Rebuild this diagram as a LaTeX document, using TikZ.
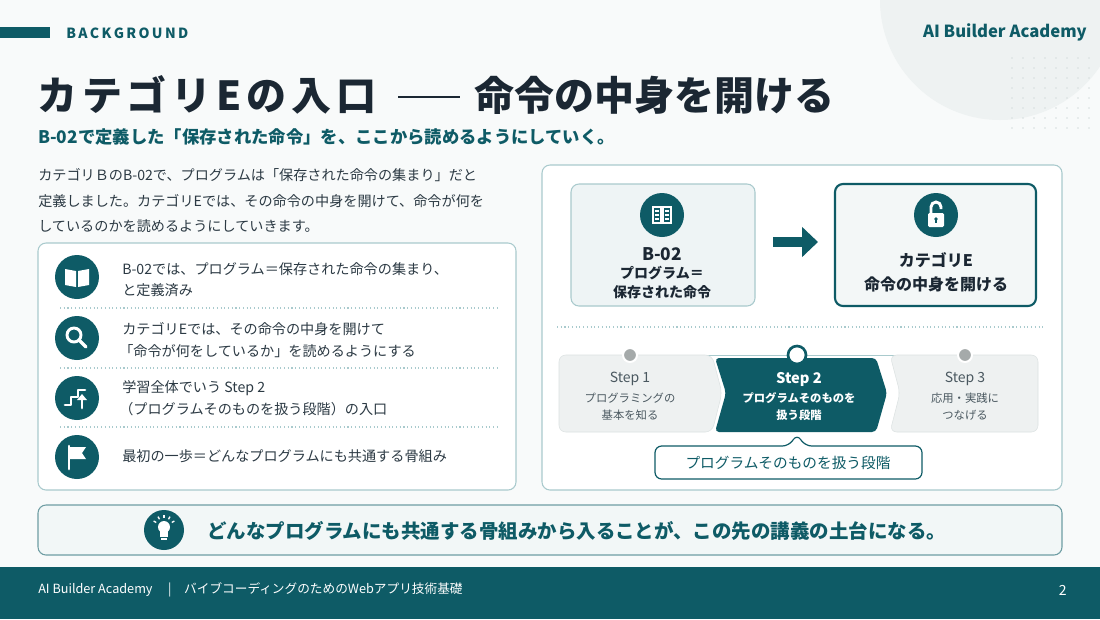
\documentclass[tikz,border=0pt]{standalone}
\usepackage{fontspec}
\setmainfont{Noto Sans CJK JP}
\usetikzlibrary{arrows.meta}
\definecolor{teal}{HTML}{0E5B66}
\definecolor{ink}{HTML}{1B2733}
\definecolor{txt}{HTML}{2C3A44}
\definecolor{bd}{HTML}{A9CACD}
\definecolor{lt}{HTML}{EEF4F5}
\definecolor{gy}{HTML}{EEF1F1}
\definecolor{gtx}{HTML}{4A5860}
\definecolor{pagebg}{HTML}{F8FAFA}
\definecolor{deco}{HTML}{EEF2F2}
\definecolor{dots}{HTML}{D7DEDE}
\definecolor{lt2}{HTML}{F3F7F7}
\definecolor{gbd}{HTML}{DCE2E2}
\definecolor{gdot}{HTML}{A5AAAA}
\definecolor{ban}{HTML}{F2F7F7}
\begin{document}
\begin{tikzpicture}[x=0.75pt,y=-0.75pt,
  t/.style={anchor=west,inner sep=0,text=txt,font=\fontsize{10.6}{12}\selectfont},
  ic/.style={circle,fill=teal,minimum size=33pt,inner sep=0},
  box/.style={draw=bd,line width=0.8pt,rounded corners=6pt},
  sep/.style={draw=bd,dotted,line width=0.8pt},
  w/.style={draw=white,line width=1.4pt,line cap=round,line join=round}]
\useasboundingbox (0,0) rectangle (1100,619);
\fill[pagebg] (0,0) rectangle (1100,619);
\fill[deco] (1000,0) circle (120);
\foreach \i in {0,...,7}\foreach \j in {0,...,7}\fill[dots] (1012+\i*11,58+\j*10) circle (0.9);
% header
\fill[teal] (0,27) rectangle (50,38);
\node[anchor=west,inner sep=0,text=teal,font=\bfseries\fontsize{10.5}{12}\selectfont] (bg) at (66,33) {B\,A\,C\,K\,G\,R\,O\,U\,N\,D};
\node[anchor=east,inner sep=0,text=teal,font=\bfseries\fontsize{12.5}{14}\selectfont] (brand) at (1087,32) {AI Builder Academy};
% title
\node[anchor=west,inner sep=0,text=ink,font=\bfseries\fontsize{30}{36}\selectfont\addfontfeature{LetterSpace=12}] (t1) at (37,95) {カテゴリEの入口};
\draw[ink,line width=1.5pt] (398,97) -- (460,97);
\node[anchor=west,inner sep=0,text=ink,font=\bfseries\fontsize{30}{36}\selectfont] (t2) at (474,95) {命令の中身を開ける};
\node[t,text=teal,font=\bfseries\fontsize{13}{14}\selectfont] (sub) at (38,137) {B-02で定義した「保存された命令」を、ここから読めるようにしていく。};
\node[t] (p1) at (38,175) {カテゴリＢのB-02で、プログラムは「保存された命令の集まり」だと};
\node[t] (p2) at (38,201) {定義しました。カテゴリEでは、その命令の中身を開けて、命令が何を};
\node[t] (p3) at (38,226) {しているのかを読めるようにしていきます。};
% left box
\draw[box,fill=white] (38,243) rectangle (516,490);
\foreach \y in {308,368,427} \draw[sep] (60,\y) -- (497,\y);
\node[ic] (i1) at (77,277) {};
\node[ic] (i2) at (77,338) {};
\node[ic] (i3) at (77,398) {};
\node[ic] (i4) at (77,457) {};
% book
\fill[white] (65,269) -- (76,271) -- (76,287) -- (65,285) -- cycle;
\fill[white] (89,269) -- (78,271) -- (78,287) -- (89,285) -- cycle;
% magnifier
\draw[w,line width=2.2pt] (74,335) circle (7);
\draw[w,line width=2.6pt] (79,340) -- (86,347);
% stairs
\draw[w,line width=2pt] (65,405) -- (71,405) -- (71,397) -- (78,397) -- (78,390) -- (85,390);
\draw[w,line width=2pt] (82,408) -- (82,398);
\fill[white] (77,400) -- (82,394) -- (87,400) -- cycle;
% flag
\draw[w,line width=2pt] (69,446) -- (69,469);
\fill[white] (69,447) -- (86,447) -- (82,453) -- (86,459) -- (69,459) -- cycle;
\node[t] (l1a) at (122,269) {B-02では、プログラム＝保存された命令の集まり、};
\node[t] (l1b) at (122,290) {と定義済み};
\node[t] (l2a) at (122,329) {カテゴリEでは、その命令の中身を開けて};
\node[t] (l2b) at (119,351) {「命令が何をしているか」を読めるようにする};
\node[t] (l3a) at (122,388) {学習全体でいう Step 2};
\node[t] (l3b) at (119,409) {（プログラムそのものを扱う段階）の入口};
\node[t] (l4) at (122,456) {最初の一歩＝どんなプログラムにも共通する骨組み};
% right panel
\draw[box,fill=white] (542,165) rectangle (1062,490);
\draw[box,fill=lt] (571,184) rectangle (755,306);
\draw[teal,line width=1.6pt,rounded corners=6pt,fill=lt2] (835,184) rectangle (1036,306);
\node[ic] (bk) at (662,215) {};
\draw[white,line width=1.3pt] (653,207) rectangle (661,223) (663,207) rectangle (671,223);
\foreach \yy in {211,215,219}{\draw[white,line width=1pt] (655,\yy)--(659,\yy) (665,\yy)--(669,\yy);}
\node[ic] (lk) at (936,215) {};
\fill[white,rounded corners=1pt] (928,213) rectangle (944,227);
\draw[white,line width=2.2pt] (931,213) -- (931,207) arc (180:360:5) -- (941,209);
\fill[teal] (936,219) circle (1.8); \draw[teal,line width=1.3pt] (936,219) -- (936,223);
\node[inner sep=0,text=ink,font=\bfseries\fontsize{13}{14}\selectfont] (b02) at (662,254) {B-02};
\node[inner sep=0,text=ink,font=\bfseries\fontsize{10.5}{12}\selectfont] (b02a) at (662,273) {プログラム＝};
\node[inner sep=0,text=ink,font=\bfseries\fontsize{10.5}{12}\selectfont] (b02b) at (662,292) {保存された命令};
\node[inner sep=0,text=ink,font=\bfseries\fontsize{12}{14}\selectfont] (ce) at (936,260) {カテゴリE};
\node[inner sep=0,text=ink,font=\bfseries\fontsize{12}{14}\selectfont] (ce2) at (936,284) {命令の中身を開ける};
\coordinate (ar1) at (773,242); \coordinate (ar2) at (818,242);
\draw[teal,line width=8pt,-{Triangle[length=12pt,width=22pt]}] (ar1) -- (ar2);
\draw[sep] (557,327) -- (1045,327);
% steps
\draw[bd,line width=0.7pt] (630,355) -- (965,355);
\filldraw[fill=gy,draw=gbd,rounded corners=5pt] (559,355) -- (712,355) -- (722,393) -- (712,432) -- (559,432) -- cycle;
\fill[teal,rounded corners=3pt] (715,358) -- (876,358) -- (887,393) -- (876,432) -- (715,432) -- (726,393) -- cycle;
\filldraw[fill=gy,draw=gbd,rounded corners=5pt] (890,355) -- (1038,355) -- (1038,432) -- (890,432) -- (900,393) -- cycle;
\filldraw[fill=gdot,draw=white,line width=1.5pt] (630,355) circle (7);
\filldraw[fill=gdot,draw=white,line width=1.5pt] (965,355) circle (7);
\filldraw[fill=white,draw=teal,line width=2pt] (797,355) circle (9);
\node[inner sep=0,text=gtx,font=\fontsize{10.5}{12}\selectfont] (s1) at (630,379) {Step 1};
\node[inner sep=0,text=gtx,font=\fontsize{8.5}{10}\selectfont] (s1a) at (630,398) {プログラミングの};
\node[inner sep=0,text=gtx,font=\fontsize{8.5}{10}\selectfont] (s1b) at (630,415) {基本を知る};
\node[inner sep=0,text=white,font=\bfseries\fontsize{11}{12}\selectfont] (s2) at (799,379) {Step 2};
\node[inner sep=0,text=white,font=\bfseries\fontsize{8.5}{10}\selectfont] (s2a) at (799,398) {プログラムそのものを};
\node[inner sep=0,text=white,font=\bfseries\fontsize{8.5}{10}\selectfont] (s2b) at (799,415) {扱う段階};
\node[inner sep=0,text=gtx,font=\fontsize{10.5}{12}\selectfont] (s3) at (965,379) {Step 3};
\node[inner sep=0,text=gtx,font=\fontsize{8.5}{10}\selectfont] (s3a) at (965,398) {応用・実践に};
\node[inner sep=0,text=gtx,font=\fontsize{8.5}{10}\selectfont] (s3b) at (965,415) {つなげる};
\draw[teal,line width=0.9pt,fill=white,rounded corners=5pt] (655,446) -- (789,446) -- (797,434) -- (805,446) -- (922,446) -- (922,479) -- (655,479) -- cycle;
\node[inner sep=0,text=teal,font=\fontsize{11}{12}\selectfont] (co) at (788,463) {プログラムそのものを扱う段階};
% banner
\draw[box,fill=ban,draw=teal!60] (38,505) rectangle (1062,555);
\node[ic,minimum size=30pt] (bulb) at (164,530) {};
\fill[white] (164,527) circle (6);
\fill[white] (160,531) rectangle (168,537);
\draw[white,line width=1pt] (161,539) -- (167,539);
\foreach \a in {-150,-120,-90,-60,-30}\draw[white,line width=1pt] (164,527)++(\a:9) -- ++(\a:3);
\node[t,text=teal,font=\bfseries\fontsize{14.6}{16}\selectfont] (bn) at (207,531) {どんなプログラムにも共通する骨組みから入ることが、この先の講義の土台になる。};
% footer
\fill[teal] (0,567) rectangle (1100,619);
\node[t,text=white,font=\fontsize{9.5}{11}\selectfont] (ft) at (38,590) {AI Builder Academy \quad|\quad バイブコーディングのためのWebアプリ技術基礎};
\node[anchor=east,inner sep=0,text=white,font=\fontsize{10.5}{12}\selectfont] (pg) at (1067,590) {2};
\end{tikzpicture}
\end{document}
